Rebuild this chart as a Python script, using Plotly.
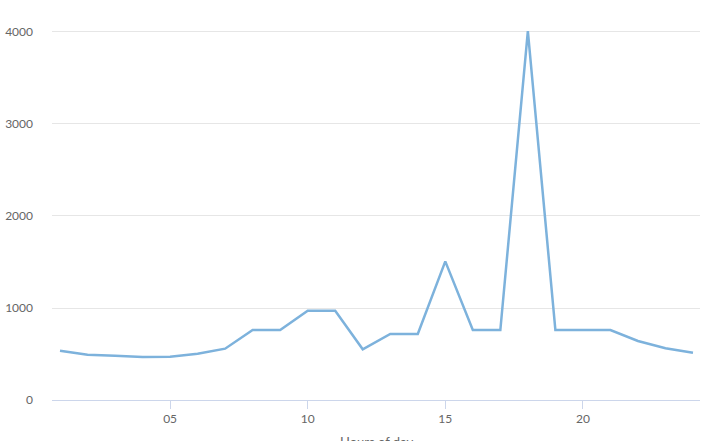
import plotly.graph_objects as go

hours = list(range(1, 25))
values = [536, 492, 482, 467, 471, 503, 558, 761, 761, 971, 971, 551,
          717, 717, 1507, 761, 761, 4010, 761, 761, 761, 641, 562, 514]

x_tickvals = [5, 10, 15, 20]
x_ticktext = ["05", "10", "15", "20"]
y_tickvals = [0, 1000, 2000, 3000, 4000]
x_title = "Hours of day"

fig = go.Figure()
fig.add_trace(go.Scatter(
    x=hours, y=values, mode="lines",
    line=dict(color="#7db2dc", width=2.5),
    hoverinfo="skip",
))

font_family = "Lato, Open Sans, sans-serif"

fig.update_layout(
    width=715, height=441,
    margin=dict(l=52, r=15, t=10, b=41),
    paper_bgcolor="white", plot_bgcolor="white",
    showlegend=False,
    font=dict(family=font_family, color="#666666", size=12),
    xaxis=dict(
        range=[0.709, 24.255],
        tickvals=x_tickvals, ticktext=x_ticktext,
        showgrid=False, zeroline=False,
        showline=True, linecolor="#ccd6eb", linewidth=1,
        ticks="outside", ticklen=8, tickcolor="#ccd6eb", tickwidth=1,
        tickfont=dict(size=12, color="#666666"),
        automargin=False,
    ),
    yaxis=dict(
        range=[0, 4239],
        tickvals=y_tickvals,
        showgrid=True, gridcolor="#e6e6e6", gridwidth=1,
        zeroline=False, showline=False,
        ticks="", ticklabelstandoff=18,
        tickfont=dict(size=12, color="#666666"),
        automargin=False,
    ),
    annotations=[dict(
        text=x_title, xref="paper", yref="paper",
        x=0.5, y=0, yanchor="top", yshift=-32, showarrow=False,
        font=dict(size=13, color="#666666"),
    )],
)

fig.write_html(
    "out.html",
    config={"displayModeBar": False},
    post_script="document.body.style.margin='0';",
)
